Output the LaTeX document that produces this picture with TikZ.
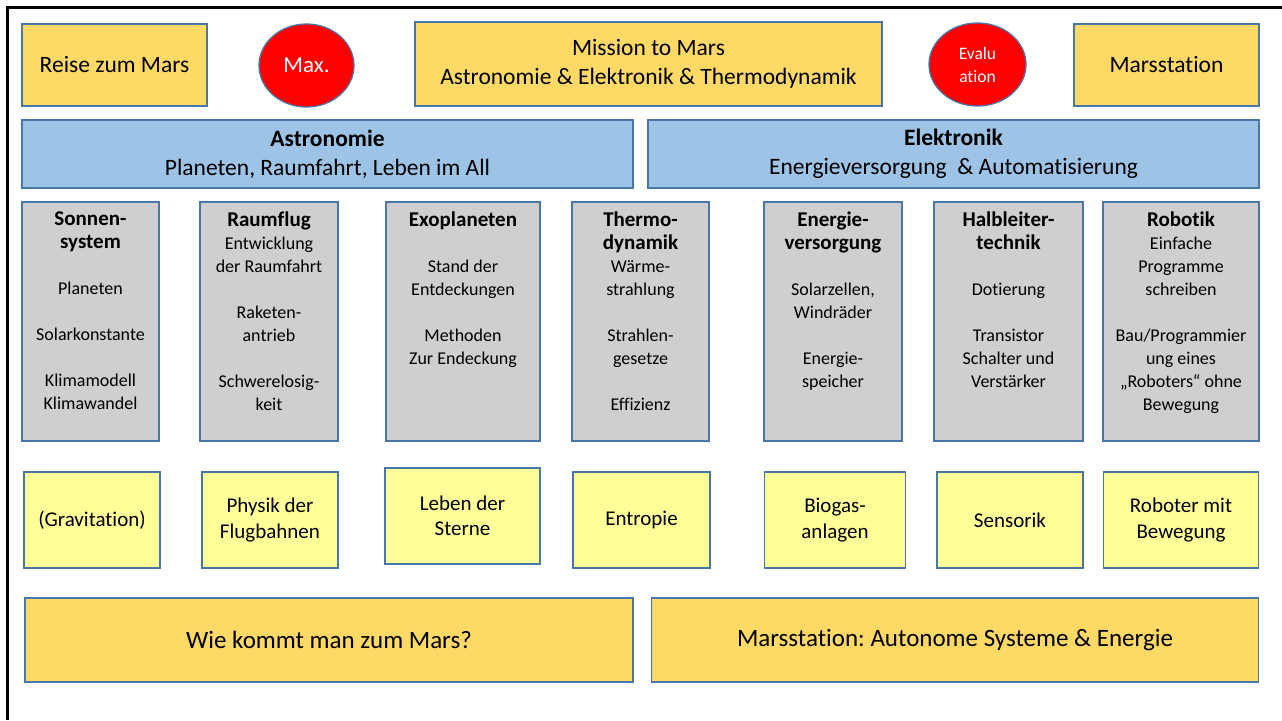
\documentclass[tikz,border=0pt]{standalone}
\usepackage{fontspec}
\setmainfont{Carlito}[Ligatures={NoCommon}]
\frenchspacing
\usetikzlibrary{shapes.geometric}
\definecolor{goldfill}{HTML}{FFD966}
\definecolor{lightyel}{HTML}{FFFF99}
\definecolor{bluefill}{HTML}{9DC3E6}
\definecolor{grayfill}{HTML}{D0CECE}
\definecolor{redfill}{HTML}{FF0000}
\definecolor{bord}{HTML}{4A76A8}
\newcommand{\boxtitle}[1]{{\fontsize{21}{23}\selectfont\bfseries #1}}
\begin{document}
\begin{tikzpicture}[x=1pt,y=-1pt,
  base/.style={draw=bord, line width=1.3pt, inner sep=0pt, align=center},
  goldbox/.style={base, fill=goldfill, font=\fontsize{23.5}{29}\selectfont},
  bluebox/.style={base, fill=bluefill, font=\fontsize{23.5}{29}\selectfont},
  graybox/.style={base, fill=grayfill, minimum height=239pt},
  yelbox/.style={base, fill=lightyel, minimum height=96pt, font=\fontsize{21}{25.5}\selectfont},
  bottombox/.style={base, fill=goldfill, minimum height=84pt, font=\fontsize{25}{30}\selectfont},
  redell/.style={base, ellipse, fill=redfill, text=white},
  gtxt/.style={align=center, inner sep=0pt, anchor=north, font=\fontsize{18}{23}\selectfont}
]
\useasboundingbox (0,0) rectangle (1282,720);
\fill[white] (0,0) rectangle (1282,720);
% frame
\coordinate (fbl) at (7.5,720);
\coordinate (ftl) at (7.5,7.5);
\coordinate (ftr) at (1282,7.5);
\draw[line width=2.5pt, black] (fbl) -- (ftl) -- (ftr);

% top row
\node[goldbox, minimum width=185pt, minimum height=82pt] (reise) at (114.5,65) {Reise zum Mars};
\node[redell, minimum width=95pt, minimum height=83pt, font=\fontsize{23}{28}\selectfont] (max) at (306.5,65.5) {Max.};
\node[goldbox, minimum width=467pt, minimum height=84pt] (mission) at (648.5,64) {Mission to Mars\\Astronomie \& Elektronik \& Thermodynamik};
\node[redell, minimum width=97pt, minimum height=83pt, font=\fontsize{17.5}{23}\selectfont] (eval) at (977.5,64.5) {Evalu\\ation};
\node[goldbox, minimum width=185pt, minimum height=82pt] (marsst) at (1166.5,65) {Marsstation};

% blue bars
\node[bluebox, minimum width=611pt, minimum height=68pt] (astro) at (327.5,154) {\textbf{Astronomie}\\Planeten, Raumfahrt, Leben im All};
\node[bluebox, minimum width=611pt, minimum height=68pt] (elek) at (953.5,154) {\textbf{Elektronik}\\Energieversorgung~ \& Automatisierung};

% gray boxes
\node[graybox, minimum width=137pt] (sonne) at (90.5,321.5) {};
\node[graybox, minimum width=138pt] (raum) at (269,321.5) {};
\node[graybox, minimum width=154pt] (exo) at (463,321.5) {};
\node[graybox, minimum width=137pt] (thermo) at (640.5,321.5) {};
\node[graybox, minimum width=138pt] (energie) at (833,321.5) {};
\node[graybox, minimum width=149pt] (halb) at (1008.5,321.5) {};
\node[graybox, minimum width=156pt] (robo) at (1181,321.5) {};

\node[gtxt] (sonneT) at ([yshift=-10pt]sonne.north) {\boxtitle{Sonnen-}\\\boxtitle{system}\\[23pt]Planeten\\[23pt]Solarkonstante\\[23pt]Klimamodell\\Klimawandel};
\node[gtxt] (raumT) at ([yshift=-10pt]raum.north) {\boxtitle{Raumflug}\\Entwicklung\\der Raumfahrt\\[23pt]Raketen-\\antrieb\\[23pt]Schwerelosig-\\keit};
\node[gtxt] (exoT) at ([yshift=-10pt]exo.north) {\boxtitle{Exoplaneten}\\[23pt]Stand der\\Entdeckungen\\[23pt]Methoden\\Zur Endeckung};
\node[gtxt] (thermoT) at ([yshift=-10pt]thermo.north) {\boxtitle{Thermo-}\\\boxtitle{dynamik}\\Wärme-\\strahlung\\[23pt]Strahlen-\\gesetze\\[23pt]Effizienz};
\node[gtxt] (energieT) at ([yshift=-10pt]energie.north) {\boxtitle{Energie-}\\\boxtitle{versorgung}\\[23pt]Solarzellen,\\Windräder\\[23pt]Energie-\\speicher};
\node[gtxt] (halbT) at ([yshift=-10pt]halb.north) {\boxtitle{Halbleiter-}\\\boxtitle{technik}\\[23pt]Dotierung\\[23pt]Transistor\\Schalter und\\Verstärker};
\node[gtxt] (roboT) at ([yshift=-10pt]robo.north) {\boxtitle{Robotik}\\Einfache\\Programme\\schreiben\\[23pt]Bau/Programmier\\ung eines\\„Roboters“ ohne\\Bewegung};

% light yellow boxes
\node[yelbox, minimum width=136pt] (grav) at (92,520) {(Gravitation)};
\node[yelbox, minimum width=136pt] (physik) at (270,520) {Physik der\\Flugbahnen};
\node[yelbox, minimum width=155pt] (leben) at (462.5,516) {Leben der\\Sterne};
\node[yelbox, minimum width=137pt] (entropie) at (641.5,520) {Entropie};
\node[yelbox, minimum width=141pt] (biogas) at (835,520) {Biogas-\\anlagen};
\node[yelbox, minimum width=146pt] (sensorik) at (1010,520) {Sensorik};
\node[yelbox, minimum width=155pt] (roboter) at (1181,520) {Roboter mit\\Bewegung};

% bottom bars
\node[bottombox, minimum width=608pt] (wie) at (329,640) {Wie kommt man zum Mars?};
\node[bottombox, minimum width=607.5pt] (marsbot) at (955,640) {Marsstation: Autonome Systeme \& Energie};
\end{tikzpicture}
\end{document}
